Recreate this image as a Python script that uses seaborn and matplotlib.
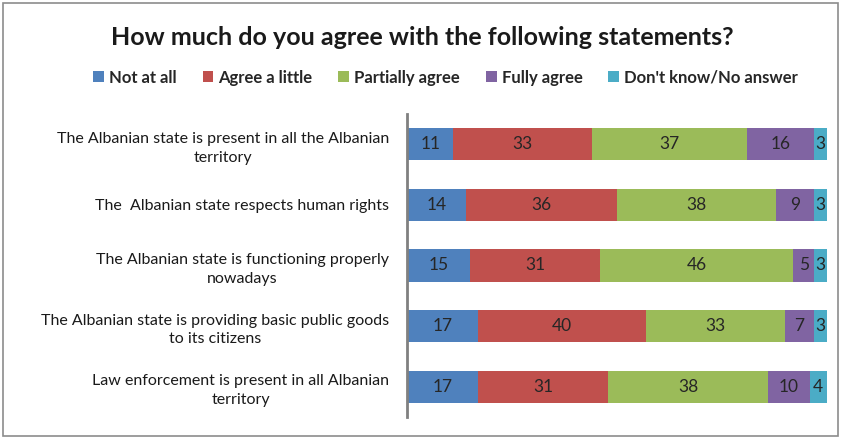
import pandas as pd
import matplotlib.pyplot as plt
from matplotlib.patches import Patch, Rectangle
import seaborn as sns

statements = [
    "The Albanian state is present in all the Albanian\nterritory",
    "The  Albanian state respects human rights",
    "The Albanian state is functioning properly\nnowadays",
    "The Albanian state is providing basic public goods\nto its citizens",
    "Law enforcement is present in all Albanian\nterritory",
]
answers = ["Not at all", "Agree a little", "Partially agree", "Fully agree", "Don't know/No answer"]
not_at_all = [11, 14, 15, 17, 17]
agree_little = [33, 36, 31, 40, 31]
partially = [37, 38, 46, 33, 38]
fully = [16, 9, 5, 7, 10]
dont_know = [3, 3, 3, 3, 4]
colors = ["#4F81BD", "#C0504D", "#9BBB59", "#8064A2", "#4BACC6"]

df = pd.DataFrame(
    {a: v for a, v in zip(answers, [not_at_all, agree_little, partially, fully, dont_know])},
    index=statements,
)
cum = df.cumsum(axis=1)

sns.set_style("white")
plt.rcParams["font.family"] = ["Lato", "DejaVu Sans"]

fig = plt.figure(figsize=(8.41, 4.37), dpi=100)
ax = fig.add_axes([0.484, 0.046, 0.499, 0.693])

# stacked bars: draw longest cumulative first, shorter ones on top
for ans, col in reversed(list(zip(answers, colors))):
    sns.barplot(x=cum[ans].values, y=statements, color=col, orient="h",
                width=0.53, ax=ax, linewidth=0, saturation=1)

for i, s in enumerate(statements):
    for ans in answers:
        v = df.loc[s, ans]
        ax.text(cum.loc[s, ans] - v / 2, i, str(v), ha="center", va="center",
                fontsize=12.5, color="#262626")

ax.set_xlim(0, 100)
ax.set_ylim(4.5, -0.5)
ax.set_xticks([])
ax.tick_params(axis="y", length=0, pad=13, labelsize=11.5, labelcolor="#1a1a1a")
for lab in ax.get_yticklabels():
    lab.set_multialignment("center")
    lab.set_linespacing(1.45)
for sp in ["top", "right", "bottom"]:
    ax.spines[sp].set_visible(False)
ax.spines["left"].set_color("#808080")
ax.spines["left"].set_linewidth(2)
ax.set_xlabel("")
ax.set_ylabel("")

fig.text(0.502, 0.915, "How much do you agree with the following statements?",
         ha="center", va="center", fontsize=18, fontweight="bold", color="#1a1a1a")

handles = [Patch(facecolor=c, edgecolor="none") for c in colors]
fig.legend(handles, answers, loc="center", bbox_to_anchor=(0.530, 0.822), ncol=5,
           frameon=False, handlelength=0.65, handleheight=0.65, handletextpad=0.3,
           columnspacing=1.55, prop={"weight": "bold", "size": 12})

fig.patches.append(Rectangle((0.004, 0.003), 0.992, 0.99, transform=fig.transFigure,
                             fill=False, edgecolor="#8c8c8c", linewidth=1.2))

fig.savefig("out.png", dpi=100)
